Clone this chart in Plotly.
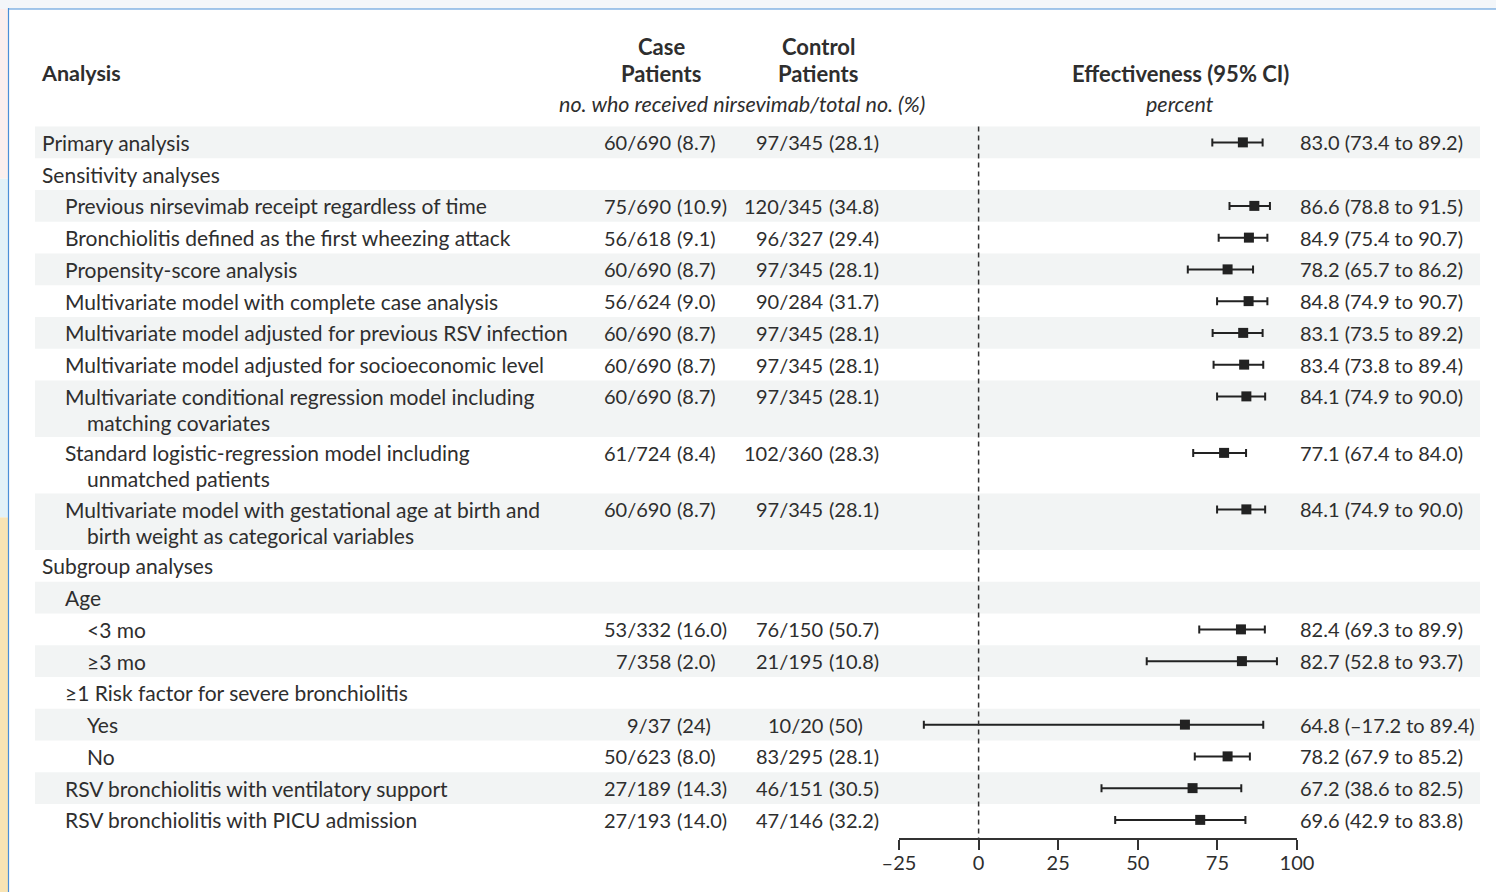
import plotly.graph_objects as go

# ---------------- data ----------------
analyses = [
    ["Primary analysis"],
    ["Sensitivity analyses"],
    ["Previous nirsevimab receipt regardless of time"],
    ["Bronchiolitis defined as the first wheezing attack"],
    ["Propensity-score analysis"],
    ["Multivariate model with complete case analysis"],
    ["Multivariate model adjusted for previous RSV infection"],
    ["Multivariate model adjusted for socioeconomic level"],
    ["Multivariate conditional regression model including", "matching covariates"],
    ["Standard logistic-regression model including", "unmatched patients"],
    ["Multivariate model with gestational age at birth and", "birth weight as categorical variables"],
    ["Subgroup analyses"],
    ["Age"],
    ["&lt;3 mo"],
    ["≥3 mo"],
    ["≥1 Risk factor for severe bronchiolitis"],
    ["Yes"],
    ["No"],
    ["RSV bronchiolitis with ventilatory support"],
    ["RSV bronchiolitis with PICU admission"],
]
levels = [0, 0, 1, 1, 1, 1, 1, 1, 1, 1, 1, 0, 1, 2, 2, 1, 2, 2, 1, 1]

case_patients = ["60/690 (8.7)", "", "75/690 (10.9)", "56/618 (9.1)", "60/690 (8.7)",
                 "56/624 (9.0)", "60/690 (8.7)", "60/690 (8.7)", "60/690 (8.7)",
                 "61/724 (8.4)", "60/690 (8.7)", "", "", "53/332 (16.0)", "7/358 (2.0)",
                 "", "9/37 (24)", "50/623 (8.0)", "27/189 (14.3)", "27/193 (14.0)"]
control_patients = ["97/345 (28.1)", "", "120/345 (34.8)", "96/327 (29.4)", "97/345 (28.1)",
                    "90/284 (31.7)", "97/345 (28.1)", "97/345 (28.1)", "97/345 (28.1)",
                    "102/360 (28.3)", "97/345 (28.1)", "", "", "76/150 (50.7)", "21/195 (10.8)",
                    "", "10/20 (50)", "83/295 (28.1)", "46/151 (30.5)", "47/146 (32.2)"]
effect = [83.0, None, 86.6, 84.9, 78.2, 84.8, 83.1, 83.4, 84.1, 77.1, 84.1,
          None, None, 82.4, 82.7, None, 64.8, 78.2, 67.2, 69.6]
ci_low = [73.4, None, 78.8, 75.4, 65.7, 74.9, 73.5, 73.8, 74.9, 67.4, 74.9,
          None, None, 69.3, 52.8, None, -17.2, 67.9, 38.6, 42.9]
ci_high = [89.2, None, 91.5, 90.7, 86.2, 90.7, 89.2, 89.4, 90.0, 84.0, 90.0,
           None, None, 89.9, 93.7, None, 89.4, 85.2, 82.5, 83.8]

tick_vals = [-25, 0, 25, 50, 75, 100]
tick_text = ["–25", "0", "25", "50", "75", "100"]

# ---------------- layout constants ----------------
W, H = 1496, 892
AXIS_Y = 838          # pixel row of the x-axis line
TOP = 126.5           # top of first table row
ROW_H = 31.75
EXTRA_LINE = 24.75
LINE_GAP = 26
FONT = "Lato, 'Open Sans', sans-serif"
TXT = "#2e2e2e"
FS_LABEL = 21
FS_NUM = 20
FS_HEAD = 22
CASE_PAREN_X = 675     # columns are aligned on the opening parenthesis
CTRL_PAREN_X = 827

def px(x):
    return x / W

def fmt(v):
    s = f"{abs(v):.1f}"
    return ("–" + s) if v < 0 else s

# row geometry
tops, heights = [], []
t = TOP
for lines in analyses:
    h = ROW_H + EXTRA_LINE * (len(lines) - 1)
    tops.append(t)
    heights.append(h)
    t += h
first_line_y = [tp + ROW_H / 2 for tp in tops]

indent_x = {0: 40, 1: 63, 2: 85}

annotations = []
shapes = []

def add_text(x, y, text, anchor="left", size=FS_LABEL, color=TXT):
    annotations.append(dict(x=px(x), y=y, xref="paper", yref="y", text=text,
                            showarrow=False, xanchor=anchor, yanchor="middle",
                            font=dict(family=FONT, size=size, color=color)))

def add_count(paren_x, y, text):
    left, right = text.split(" (")
    add_text(paren_x - 2, y, left, anchor="right", size=FS_NUM)
    add_text(paren_x, y, "(" + right, anchor="left", size=FS_NUM)

# header
add_text(39, 73, "<b>Analysis</b>", size=FS_HEAD - 0.5)
add_text(661, 46, "<b>Case</b>", anchor="center", size=FS_HEAD)
add_text(661, 73, "<b>Patients</b>", anchor="center", size=FS_HEAD)
add_text(818, 46, "<b>Control</b>", anchor="center", size=FS_HEAD)
add_text(818, 73, "<b>Patients</b>", anchor="center", size=FS_HEAD)
add_text(742, 104, "<i>no. who received nirsevimab/total no. (%)</i>", anchor="center", size=21.5)
add_text(1180, 73, "<b>Effectiveness (95% CI)</b>", anchor="center", size=FS_HEAD)
add_text(1180, 104, "<i>percent</i>", anchor="center", size=21.5)

# rows
for i, lines in enumerate(analyses):
    y0 = first_line_y[i]
    if i % 2 == 0:
        shapes.append(dict(type="rect", xref="paper", yref="y",
                           x0=px(35), x1=px(1480), y0=tops[i], y1=tops[i] + heights[i],
                           fillcolor="#f2f4f4", line=dict(width=0), layer="below"))
    for k, ln in enumerate(lines):
        x = indent_x[levels[i]] + (22 if k > 0 else 0)
        add_text(x, y0 + k * LINE_GAP, ln)
    if case_patients[i]:
        add_count(CASE_PAREN_X, y0, case_patients[i])
        add_count(CTRL_PAREN_X, y0, control_patients[i])
    if effect[i] is not None:
        add_text(1298, y0, f"{fmt(effect[i])} ({fmt(ci_low[i])} to {fmt(ci_high[i])})",
                 size=FS_NUM)

# forest points
idx = [i for i in range(len(effect)) if effect[i] is not None]
xs = [effect[i] for i in idx]
ys = [first_line_y[i] for i in idx]
err_plus = [ci_high[i] - effect[i] for i in idx]
err_minus = [effect[i] - ci_low[i] for i in idx]

fig = go.Figure()
fig.add_trace(go.Scatter(
    x=xs, y=ys, mode="markers",
    marker=dict(symbol="square", size=10, color="#222222"),
    error_x=dict(type="data", symmetric=False, array=err_plus, arrayminus=err_minus,
                 color="#222222", thickness=2, width=4),
    hoverinfo="skip", showlegend=False,
))

# dashed reference line at 0
shapes.append(dict(type="line", xref="x", yref="y", x0=0, x1=0, y0=TOP, y1=AXIS_Y,
                   line=dict(color="#333333", width=1.5, dash="5px,4px")))

# decorative frame (page border of the source)
shapes += [
    dict(type="rect", xref="paper", yref="paper", x0=0, x1=px(8), y0=0, y1=0.42,
         fillcolor="#f8e4b4", line=dict(width=0), layer="below"),
    dict(type="rect", xref="paper", yref="paper", x0=0, x1=px(8), y0=0.42, y1=0.8,
         fillcolor="#e2f2f8", line=dict(width=0), layer="below"),
    dict(type="rect", xref="paper", yref="paper", x0=0, x1=px(8), y0=0.8, y1=1,
         fillcolor="#fbefee", line=dict(width=0), layer="below"),
    dict(type="rect", xref="paper", yref="paper", x0=0, x1=1, y0=1 - 9 / H, y1=1,
         fillcolor="#f3f6f9", line=dict(width=0), layer="below"),
    dict(type="line", xref="paper", yref="paper", x0=px(8.5), x1=px(8.5), y0=0, y1=1 - 8 / H,
         line=dict(color="#4a8fd8", width=1.2)),
    dict(type="line", xref="paper", yref="paper", x0=px(8.5), x1=1, y0=1 - 9 / H, y1=1 - 9 / H,
         line=dict(color="#4a8fd8", width=1.2)),
]

fig.update_layout(
    width=W, height=H,
    margin=dict(l=0, r=0, t=0, b=0, autoexpand=False),
    paper_bgcolor="white", plot_bgcolor="rgba(0,0,0,0)",
    xaxis=dict(domain=[px(899), px(1297)], range=[-25, 100], tickvals=tick_vals,
               ticktext=tick_text, showgrid=False, zeroline=False, showline=True,
               linecolor="#333333", linewidth=1.5, ticks="outside", ticklen=10,
               tickwidth=1.5, tickcolor="#333333", automargin=False,
               ticklabelstandoff=-4,
               tickfont=dict(family=FONT, size=20, color=TXT), fixedrange=True),
    yaxis=dict(domain=[(H - AXIS_Y) / H, 1], range=[AXIS_Y, 0], visible=False,
               fixedrange=True),
    annotations=annotations,
    shapes=shapes,
    showlegend=False,
)

fig.write_html(
    "out.html",
    config={"displayModeBar": False},
    post_script="document.body.style.margin='0';document.body.style.overflow='hidden';",
)
